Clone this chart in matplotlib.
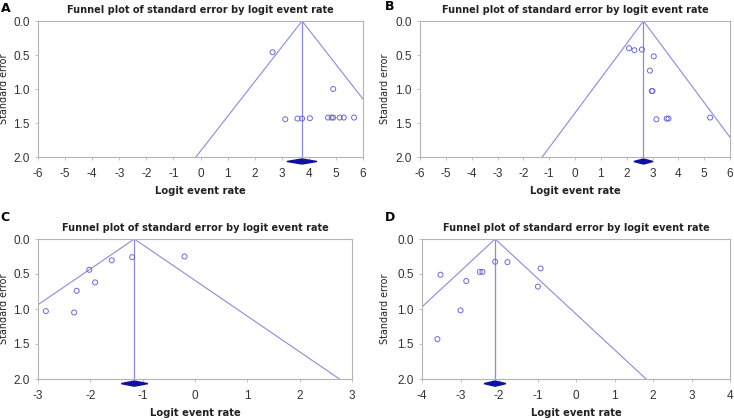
import numpy as np
import matplotlib
matplotlib.use("Agg")
import matplotlib.pyplot as plt

# Study points: logit event rate, standard error
a_x = [2.66, 4.90, 3.13, 3.58, 3.75, 4.04, 4.71, 4.84, 4.90, 5.14, 5.29, 5.67]
a_se = [0.46, 1.00, 1.445, 1.435, 1.435, 1.43, 1.42, 1.42, 1.42, 1.42, 1.42, 1.42]
b_x = [2.09, 2.30, 2.59, 3.05, 2.90, 2.97, 3.00, 3.15, 3.55, 3.62, 5.23]
b_se = [0.40, 0.43, 0.42, 0.52, 0.73, 1.03, 1.03, 1.445, 1.435, 1.435, 1.42]
c_x = [-2.85, -2.31, -2.26, -2.02, -1.91, -1.59, -1.20, -0.20]
c_se = [1.03, 1.05, 0.74, 0.44, 0.62, 0.305, 0.26, 0.25]
d_x = [-3.60, -3.52, -3.00, -2.85, -2.50, -2.43, -2.10, -1.78, -0.99, -0.92]
d_se = [1.43, 0.51, 1.02, 0.60, 0.47, 0.47, 0.325, 0.33, 0.68, 0.42]

# pooled estimate and its CI (diamond)
pooled = {"A": (3.75, 3.19, 4.30), "B": (2.65, 2.28, 3.02),
          "C": (-1.16, -1.41, -0.90), "D": (-2.10, -2.39, -1.82)}
xlims = {"A": (-6, 6), "B": (-6, 6), "C": (-3, 3), "D": (-4, 4)}

line_col = "#8a8ae0"
pt_col = "#6a6ad8"
frame_col = "#b4b4b4"
text_col = "#222222"

fig = plt.figure(figsize=(7.34, 4.2), dpi=100)
W, H = 734, 420
boxes = {"A": (38, 21, 363, 157), "B": (420, 21, 730, 157),
         "C": (38, 239, 352, 379), "D": (422, 239, 730, 379)}
ylab_off = {"A": 29, "B": 30, "C": 29, "D": 32}
letters = {"A": (1, 8), "B": (385, 7), "C": (0, 217), "D": (385, 217)}
data = {"A": (a_x, a_se), "B": (b_x, b_se), "C": (c_x, c_se), "D": (d_x, d_se)}

for key in ["A", "B", "C", "D"]:
    l, t, r, b = boxes[key]
    ax = fig.add_axes([l / W, 1 - b / H, (r - l) / W, (b - t) / H])
    xs, ses = data[key]
    m, lo, hi = pooled[key]
    x0, x1 = xlims[key]

    # funnel lines: mean +/- 1.96 * SE
    se_line = np.array([0, 2.0])
    ax.plot(m - 1.96 * se_line, se_line, color=line_col, lw=0.8)
    ax.plot(m + 1.96 * se_line, se_line, color=line_col, lw=0.8)
    ax.plot([m, m], [0, 2.0], color=line_col, lw=0.9)

    ax.scatter(xs, ses, s=13, facecolors="none", edgecolors=pt_col, linewidths=0.7, zorder=3)

    # diamond below the axis
    dy = 0.037
    yc = 2.066
    ax.fill([lo, m, hi, m], [yc, yc - dy, yc, yc + dy], color="#1010a0", clip_on=False, zorder=4)

    ax.set_xlim(x0, x1)
    ax.set_ylim(2.0, 0.0)
    ax.set_xticks(np.arange(x0, x1 + 1, 1))
    ax.set_xticklabels([str(v) for v in range(x0, x1 + 1)])
    ax.set_yticks([0.0, 0.5, 1.0, 1.5, 2.0])
    ax.set_yticklabels(["0.0", "0.5", "1.0", "1.5", "2.0"])
    ax.tick_params(length=2, width=0.6, color=frame_col, labelcolor="#333333")
    ax.tick_params(axis="x", pad=6)
    ax.tick_params(axis="y", pad=4)
    for lab in ax.get_xticklabels() + ax.get_yticklabels():
        lab.set_fontfamily("Liberation Sans")
        lab.set_fontsize(8.5)
    for sp in ax.spines.values():
        sp.set_color(frame_col)
        sp.set_linewidth(0.8)

    ax.set_title("Funnel plot of standard error by logit event rate", fontsize=7,
                 fontweight="bold", pad=6, color=text_col)
    ax.set_xlabel("Logit event rate", fontsize=7.2, fontweight="bold", labelpad=4, color=text_col)
    ax.set_ylabel("Standard error", fontsize=6.9, color=text_col)
    ax.yaxis.set_label_coords(-ylab_off[key] / (r - l), 0.5)

    lx, ly = letters[key]
    fig.text(lx / W, 1 - ly / H, key, fontsize=9, fontweight="bold", va="center", ha="left")

fig.savefig("out.png", dpi=100)
